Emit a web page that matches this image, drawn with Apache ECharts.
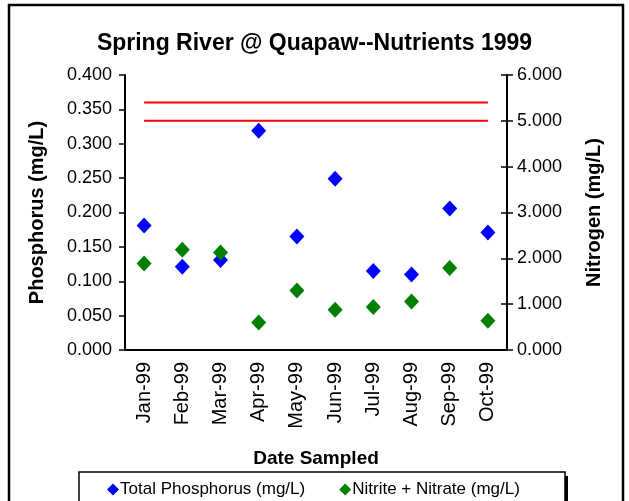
<!DOCTYPE html>
<html><head><meta charset="utf-8">
<script src="https://cdn.jsdelivr.net/npm/echarts@6/dist/echarts.min.js"></script>
<style>html,body{margin:0;padding:0;background:#fff}#c{width:629px;height:501px}</style>
</head><body><div id="c"></div>
<script>
var categories = ['Jan-99','Feb-99','Mar-99','Apr-99','May-99','Jun-99','Jul-99','Aug-99','Sep-99','Oct-99'];
var phosphorus = [0.181,0.121,0.131,0.319,0.165,0.249,0.115,0.110,0.206,0.171];
var nitrogen = [1.89,2.19,2.13,0.60,1.30,0.88,0.94,1.06,1.79,0.64];
var phosLimit = [0.36,0.36,0.36,0.36,0.36,0.36,0.36,0.36,0.36,0.36];
var nitroLimit = [5.0,5.0,5.0,5.0,5.0,5.0,5.0,5.0,5.0,5.0];
var leftTicks = ['0.000','0.050','0.100','0.150','0.200','0.250','0.300','0.350','0.400'];
var rightTicks = ['0.000','1.000','2.000','3.000','4.000','5.000','6.000'];

var F = 'Liberation Sans, Arial, sans-serif';
var chart = echarts.init(document.getElementById('c'), null, {renderer:'canvas'});
chart.setOption({
  animation:false,
  backgroundColor:'#fff',
  title:{text:'Spring River @ Quapaw--Nutrients 1999', left:'center', top:27,
    textStyle:{fontFamily:F, fontSize:23, fontWeight:'bold', color:'#000'}},
  graphic:[
    {type:'rect', shape:{x:9,y:5,width:614,height:510}, style:{fill:'none', stroke:'#000', lineWidth:2.5}, z:-1},
    {type:'rect', shape:{x:82,y:476,width:486,height:32}, style:{fill:'#000'}, z:5},
    {type:'rect', shape:{x:79,y:472,width:486,height:32}, style:{fill:'#fff', stroke:'#000', lineWidth:1.5}, z:6}
  ],
  legend:{data:['Total Phosphorus (mg/L)','Nitrite + Nitrate (mg/L)'], left:102, top:476, z:10,
    icon:'diamond', itemWidth:12, itemHeight:12, itemGap:34,
    textStyle:{fontFamily:F, fontSize:17, color:'#000', padding:[0,0,0,-4]}},
  grid:{left:125, right:122, top:75, height:275},
  xAxis:{type:'category', data:categories, boundaryGap:true,
    name:'Date Sampled', nameLocation:'middle', nameGap:99,
    nameTextStyle:{fontFamily:F, fontSize:19, fontWeight:'bold', color:'#000'},
    axisLine:{lineStyle:{color:'#000', width:2}}, axisTick:{show:false},
    axisLabel:{rotate:90, fontFamily:F, fontSize:20, color:'#000', margin:12}},
  yAxis:[
    {type:'value', min:0, max:0.4, interval:0.05, position:'left',
     name:'Phosphorus (mg/L)', nameLocation:'middle', nameGap:78, nameRotate:90,
     nameTextStyle:{fontFamily:F, fontSize:20, fontWeight:'bold', color:'#000'},
     axisLine:{show:true, lineStyle:{color:'#000', width:2}},
     axisTick:{show:true, length:6, lineStyle:{color:'#000', width:1.5}},
     axisLabel:{fontFamily:F, fontSize:18, color:'#000', margin:13,
       formatter:function(v){return leftTicks[Math.round(v/0.05)];}},
     splitLine:{show:false}},
    {type:'value', min:0, max:6, interval:1, position:'right',
     name:'Nitrogen (mg/L)', nameLocation:'middle', nameGap:77, nameRotate:90,
     nameTextStyle:{fontFamily:F, fontSize:20, fontWeight:'bold', color:'#000'},
     axisLine:{show:true, lineStyle:{color:'#000', width:2}},
     axisTick:{show:true, length:6, lineStyle:{color:'#000', width:1.5}},
     axisLabel:{fontFamily:F, fontSize:18, color:'#000', margin:10,
       formatter:function(v){return rightTicks[Math.round(v)];}},
     splitLine:{show:false}},
    {type:'value', min:0, max:6, interval:1, position:'right', offset:0,
     axisLine:{show:false}, axisLabel:{show:false}, splitLine:{show:false},
     axisTick:{show:true, inside:true, length:6, lineStyle:{color:'#000', width:1.5}}}
  ],
  series:[
    {name:'Phosphorus limit', type:'line', yAxisIndex:0, data:phosLimit, symbol:'none',
     lineStyle:{color:'#ff0000', width:2}, z:1},
    {name:'Nitrogen limit', type:'line', yAxisIndex:1, data:nitroLimit, symbol:'none',
     lineStyle:{color:'#ff0000', width:2}, z:1},
    {name:'Total Phosphorus (mg/L)', type:'scatter', yAxisIndex:0, data:phosphorus,
     symbol:'diamond', symbolSize:[15,16], itemStyle:{color:'#0000ff', opacity:1}, z:3},
    {name:'Nitrite + Nitrate (mg/L)', type:'scatter', yAxisIndex:1, data:nitrogen,
     symbol:'diamond', symbolSize:[15,16], itemStyle:{color:'#008000', opacity:1}, z:4}
  ]
});
</script></body></html>
